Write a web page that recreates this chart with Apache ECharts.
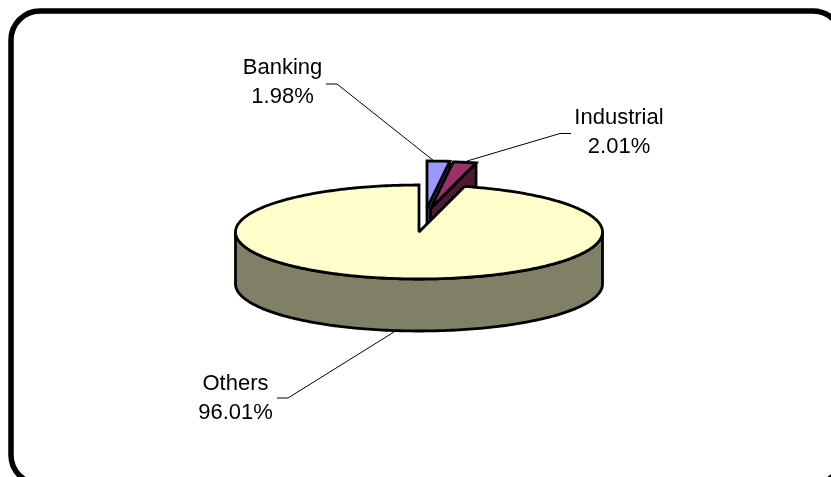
<!DOCTYPE html>
<html>
<head>
<meta charset="utf-8">
<style>html,body{margin:0;padding:0;background:#fff}#c{width:831px;height:477px}</style>
<script src="https://cdn.jsdelivr.net/npm/echarts@6/dist/echarts.min.js"></script>
</head>
<body>
<div id="c"></div>
<script>
// Market share by sector
const categories = ['Banking', 'Industrial', 'Others'];
const shares = [1.98, 2.01, 96.01];

// Presentation of the tilted disc
const topColors = ['#9999ff', '#993366', '#ffffcc'];
const sideColors = ['#4d4d80', '#4d1a33', '#808066'];
const explode = [[8, -24], [11.5, -23.5], [0, 0]];
const labelAnchors = [[282.5, 82], [619, 132], [235.5, 398]];
const leaders = [
  [[326, 84], [337, 84], [434, 161]],
  [[571, 133.5], [560, 133.5], [467, 161]],
  [[277, 398], [288, 398], [394, 332]]
];
const disc = { cx: 419, cy: 232, rx: 183.5, ry: 47, depth: 52 };

const total = shares.reduce((a, b) => a + b, 0);
let running = 0;
const slices = shares.map(v => {
  const from = running / total * Math.PI * 2;
  running += v;
  return [from, running / total * Math.PI * 2];
});

const edge = { stroke: '#000', lineWidth: 2.8, lineJoin: 'miter', miterLimit: 2.5 };

function arcPoints(a0, a1, ox, oy) {
  const pts = [];
  const n = Math.max(2, Math.ceil((a1 - a0) / 0.02));
  for (let i = 0; i <= n; i++) {
    const t = a0 + (a1 - a0) * i / n;
    pts.push([disc.cx + ox + disc.rx * Math.sin(t), disc.cy + oy - disc.ry * Math.cos(t)]);
  }
  return pts;
}

function renderSlice(params, api) {
  const i = api.value(0);
  const [a0, a1] = slices[i];
  const [ox, oy] = explode[i];
  const apex = [disc.cx + ox, disc.cy + oy];
  const d = disc.depth;
  const children = [];

  if (i === 2) {
    // Rim of the large slice: the front half of the disc pushed down
    const front = arcPoints(Math.PI / 2, Math.PI * 1.5, ox, oy);
    const rim = front.concat(front.slice().reverse().map(p => [p[0], p[1] + d]));
    children.push({ type: 'polygon', shape: { points: rim }, style: { fill: sideColors[i], ...edge } });
  } else {
    // Cut face on the trailing side of an exploded slice
    const end = arcPoints(a1, a1, ox, oy)[0];
    const face = [apex, end, [end[0], end[1] + d], [apex[0], apex[1] + d]];
    children.push({ type: 'polygon', shape: { points: face }, style: { fill: sideColors[i], ...edge } });
  }
  const top = [apex].concat(arcPoints(a0, a1, ox, oy));
  children.push({ type: 'polygon', shape: { points: top }, style: { fill: topColors[i], ...edge } });
  return { type: 'group', children };
}

function renderLabel(params, api) {
  const i = api.value(0);
  const [x, y] = labelAnchors[i];
  return {
    type: 'group',
    children: [
      { type: 'polyline', shape: { points: leaders[i] }, style: { fill: 'none', stroke: '#000', lineWidth: 1 } },
      {
        type: 'text',
        x, y,
        style: {
          text: categories[i] + '\n' + shares[i].toFixed(2) + '%',
          fill: '#000',
          font: '22px "Liberation Sans", Arial, sans-serif',
          align: 'center',
          verticalAlign: 'middle',
          lineHeight: 29
        }
      }
    ]
  };
}

const chart = echarts.init(document.getElementById('c'), null, { renderer: 'canvas' });
const rows = shares.map((v, i) => [i, v]);
chart.setOption({
  animation: false,
  backgroundColor: '#fff',
  xAxis: { show: false, min: 0, max: 1 },
  yAxis: { show: false, min: 0, max: 1 },
  grid: { left: 0, right: 0, top: 0, bottom: 0 },
  graphic: [{
    type: 'rect',
    shape: { x: 11, y: 11, width: 831, height: 473, r: 29 },
    style: { fill: 'none', stroke: '#000', lineWidth: 5.5 },
    z: 1
  }],
  series: [
    { type: 'custom', coordinateSystem: 'none', data: rows, renderItem: renderSlice, silent: true, z: 2, clip: false },
    { type: 'custom', coordinateSystem: 'none', data: rows, renderItem: renderLabel, silent: true, z: 3, clip: false }
  ]
});
</script>
</body>
</html>
